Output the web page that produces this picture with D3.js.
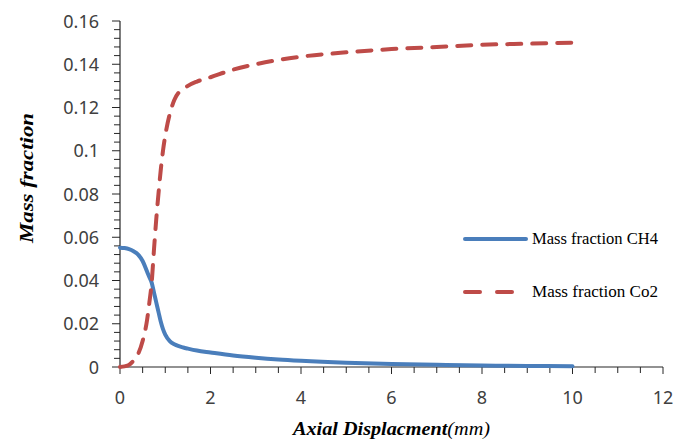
<!DOCTYPE html>
<html>
<head>
<meta charset="utf-8">
<script src="https://cdn.jsdelivr.net/npm/d3@7"></script>
<style>
  html, body { margin: 0; padding: 0; background: #fff; }
  svg { display: block; }
</style>
</head>
<body>
<svg id="chart" width="693" height="439"></svg>
<script>
// Axial position (mm) and mass fractions along the reactor
const displacement = [0, 0.1, 0.2, 0.3, 0.4, 0.5, 0.6, 0.65, 0.7, 0.75, 0.8, 0.85, 0.9, 0.95, 1.0, 1.1, 1.2, 1.3, 1.4, 1.5, 1.7, 2, 2.5, 3, 3.5, 4, 5, 6, 7, 8, 9, 10];
const ch4 = [0.0552, 0.0550, 0.0545, 0.0535, 0.052, 0.049, 0.044, 0.0415, 0.039, 0.0345, 0.030, 0.0255, 0.021, 0.0175, 0.015, 0.012, 0.0105, 0.0096, 0.009, 0.0085, 0.0076, 0.0067, 0.0053, 0.0043, 0.0035, 0.0029, 0.002, 0.0014, 0.001, 0.0007, 0.0005, 0.0004];
const co2 = [0, 0.0003, 0.001, 0.003, 0.006, 0.012, 0.022, 0.030, 0.039, 0.054, 0.068, 0.080, 0.091, 0.100, 0.107, 0.117, 0.1235, 0.127, 0.1285, 0.130, 0.132, 0.134, 0.1375, 0.140, 0.142, 0.1435, 0.1455, 0.147, 0.148, 0.149, 0.1495, 0.150];

const xTicks = [0, 2, 4, 6, 8, 10, 12];
const yTicks = [0, 0.02, 0.04, 0.06, 0.08, 0.1, 0.12, 0.14, 0.16];
const seriesNames = ["Mass fraction CH4", "Mass fraction Co2"];

const svg = d3.select("#chart");
const x = d3.scaleLinear().domain([0, 12]).range([120, 663]);
const y = d3.scaleLinear().domain([0, 0.16]).range([367, 21]);

const tickFont = "'Noto Sans', 'Open Sans', sans-serif";
const serif = "'Liberation Serif', 'DejaVu Serif', serif";
const axisColor = "#262626";

// x axis: minor ticks every 0.5, labelled majors every 2
const gx = svg.append("g").attr("transform", `translate(0,${y(0)})`);
gx.append("line").attr("x1", x(0)).attr("x2", x(12)).attr("stroke", axisColor).attr("stroke-width", 1.2);
gx.selectAll("line.minor").data(d3.range(0, 12.001, 0.5)).join("line")
  .attr("class", "minor")
  .attr("x1", d => x(d)).attr("x2", d => x(d))
  .attr("y1", 0).attr("y2", d => (d % 2 === 0 ? 7 : 6))
  .attr("stroke", axisColor).attr("stroke-width", 1);
gx.selectAll("text").data(xTicks).join("text")
  .attr("x", d => x(d)).attr("y", 37)
  .attr("text-anchor", "middle")
  .attr("font-family", tickFont).attr("font-size", 18).attr("fill", "#404040")
  .text(d => d);

// y axis: minor ticks every 0.004, labelled majors every 0.02
const gy = svg.append("g").attr("transform", `translate(${x(0)},0)`);
gy.append("line").attr("y1", y(0)).attr("y2", y(0.16)).attr("stroke", axisColor).attr("stroke-width", 1.2);
gy.selectAll("line.minor").data(d3.range(0, 41)).join("line")
  .attr("class", "minor")
  .attr("x1", d => (d % 5 === 0 ? -8 : -6)).attr("x2", 0)
  .attr("y1", d => y(d * 0.004)).attr("y2", d => y(d * 0.004))
  .attr("stroke", axisColor).attr("stroke-width", 1);
gy.selectAll("text").data(yTicks).join("text")
  .attr("x", -21).attr("y", d => y(d) + 6.5)
  .attr("text-anchor", "end")
  .attr("font-family", tickFont).attr("font-size", 18).attr("fill", "#404040")
  .text(d => d);

// data lines
const line = vals => d3.line()
  .x((d, i) => x(displacement[i]))
  .y(d => y(d))
  .curve(d3.curveMonotoneX)(vals);

svg.append("path").attr("d", line(ch4))
  .attr("fill", "none").attr("stroke", "#4a7ebb").attr("stroke-width", 4)
  .attr("stroke-linejoin", "round").attr("stroke-linecap", "round");
svg.append("path").attr("d", line(co2))
  .attr("fill", "none").attr("stroke", "#be4b48").attr("stroke-width", 4)
  .attr("stroke-dasharray", "14,11").attr("stroke-linecap", "round");

// legend
const legend = svg.append("g");
legend.append("line").attr("x1", 465).attr("x2", 526).attr("y1", 239).attr("y2", 239)
  .attr("stroke", "#4a7ebb").attr("stroke-width", 4).attr("stroke-linecap", "round");
legend.append("line").attr("x1", 465).attr("x2", 526).attr("y1", 292).attr("y2", 292)
  .attr("stroke", "#be4b48").attr("stroke-width", 4).attr("stroke-dasharray", "15,17").attr("stroke-linecap", "round");
legend.selectAll("text").data(seriesNames).join("text")
  .attr("x", 532).attr("y", (d, i) => 244 + i * 53)
  .attr("font-family", serif).attr("font-size", 16).attr("fill", "#000")
  .attr("textLength", 126).attr("lengthAdjust", "spacingAndGlyphs")
  .text(d => d);

// axis titles
const xt = svg.append("text").attr("x", 293).attr("y", 435)
  .attr("font-family", serif).attr("font-size", 19).attr("font-style", "italic")
  .attr("textLength", 197).attr("lengthAdjust", "spacingAndGlyphs");
xt.append("tspan").attr("font-weight", "bold").text("Axial Displacment");
xt.append("tspan").text("(mm)");

svg.append("text").attr("transform", "translate(33,243) rotate(-90)")
  .attr("font-family", serif).attr("font-size", 18).attr("font-style", "italic").attr("font-weight", "bold")
  .attr("textLength", 130).attr("lengthAdjust", "spacingAndGlyphs")
  .text("Mass fraction");
</script>
</body>
</html>
